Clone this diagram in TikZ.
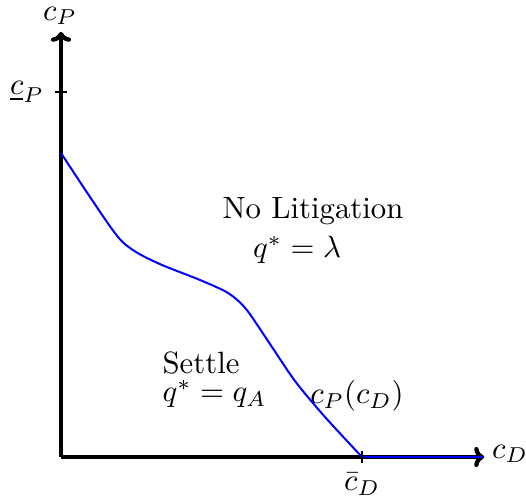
\documentclass[tikz,border=0pt]{standalone}
\usetikzlibrary{arrows.meta}
\begin{document}
\begin{tikzpicture}[x=0.325pt,y=-0.325pt,
  axis/.style={line width=1.4pt,-{To[length=3.2pt,width=6.5pt]}},
  curve/.style={blue,line width=0.65pt},
  tick/.style={line width=0.4pt},
  lbl/.style={inner sep=0pt}]
\useasboundingbox (0,0) rectangle (526,503);
\coordinate (O) at (61,457);
\coordinate (Y) at (61,32);
\coordinate (X) at (484,457);
\coordinate (cD) at (362,457);
\coordinate (cP) at (61,92);
% axes
\draw[axis] (O) -- (Y);
\draw[axis] (O) -- (X);
% curve
\draw[curve] plot[smooth,tension=0.5] coordinates {(61,153) (90,197) (118,237) (136,252) (162,265) (200,280) (228,293) (246,309) (268,341) (295,381) (325,417) (362,457)} -- (X);
% ticks
\draw[tick] (55,92) -- (67,92);
\draw[tick] (362,451) -- (362,463);
% labels
\node[lbl] (lcP) at (60,16) {$c_P$};
\node[lbl] (lcPu) at (27,92) {$\underline{c}_P$};
\node[lbl] (lcD) at (510,454) {$c_D$};
\node[lbl] (lcDb) at (362,484) {$\bar{c}_D$};
\node[lbl] (nolit) at (313,211) {No Litigation};
\node[lbl] (qlam) at (297,250) {$q^*=\lambda$};
\node[lbl,anchor=west] (settle) at (162,363) {Settle};
\node[lbl,anchor=west] (qA) at (162,394) {$q^*=q_A$};
\node[lbl] (cfun) at (357,396) {$c_P(c_D)$};
\end{tikzpicture}
\end{document}
